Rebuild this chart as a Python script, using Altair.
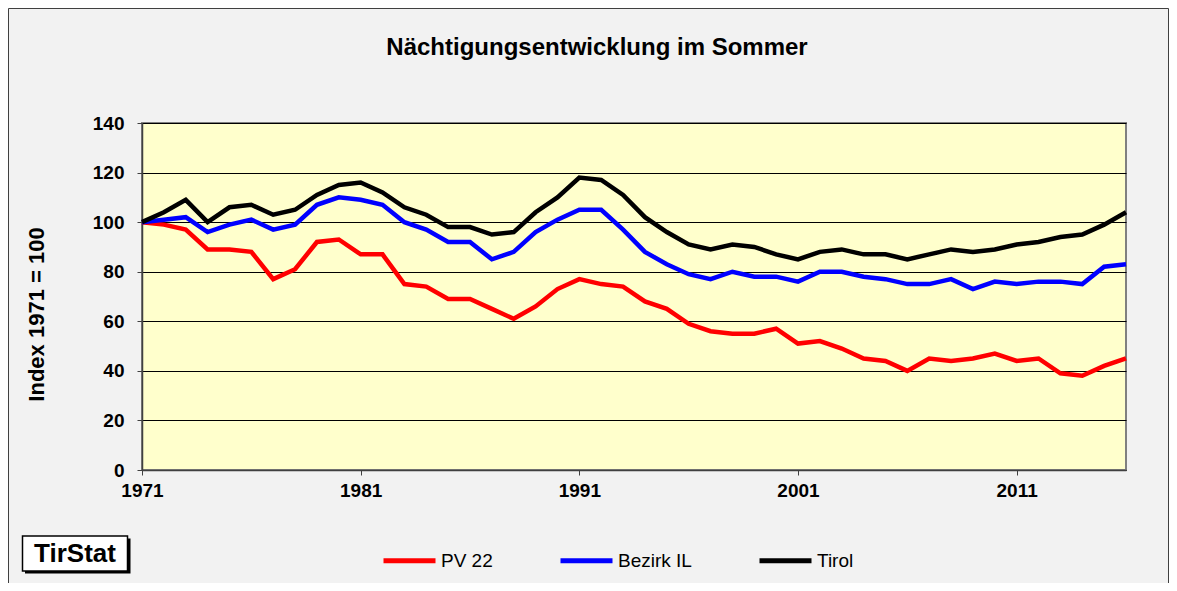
import altair as alt
import pandas as pd

# ---- data ----
years = list(range(1971, 2017))
pv22 = [100, 99, 97, 89, 89, 88, 77, 81, 92, 93,
        87, 87, 75, 74, 69, 69, 65, 61, 66, 73,
        77, 75, 74, 68, 65, 59, 56, 55, 55, 57,
        51, 52, 49, 45, 44, 40, 45, 44, 45, 47,
        44, 45, 39, 38, 42, 45]
bezirk_il = [100, 101, 102, 96, 99, 101, 97, 99, 107, 110,
             109, 107, 100, 97, 92, 92, 85, 88, 96, 101,
             105, 105, 97, 88, 83, 79, 77, 80, 78, 78,
             76, 80, 80, 78, 77, 75, 75, 77, 73, 76,
             75, 76, 76, 75, 82, 83]
tirol = [100, 104, 109, 100, 106, 107, 103, 105, 111, 115,
         116, 112, 106, 103, 98, 98, 95, 96, 104, 110,
         118, 117, 111, 102, 96, 91, 89, 91, 90, 87,
         85, 88, 89, 87, 87, 85, 87, 89, 88, 89,
         91, 92, 94, 95, 99, 104]
series_names = ["PV 22", "Bezirk IL", "Tirol"]
series_colors = ["#ff0000", "#0000ff", "#000000"]
x_ticks = [1971, 1981, 1991, 2001, 2011]
y_ticks = [0, 20, 40, 60, 80, 100, 120, 140]
title_text = "Nächtigungsentwicklung im Sommer"
y_title = "Index 1971 = 100"
badge_text = "TirStat"

FONT = "Liberation Sans"
W, H = 984, 347

rows = []
for name, vals in zip(series_names, [pv22, bezirk_il, tirol]):
    for yr, v in zip(years, vals):
        rows.append({"year": yr, "value": v, "series": name})
df = pd.DataFrame(rows)

color = alt.Color(
    "series:N",
    scale=alt.Scale(domain=series_names, range=series_colors),
    legend=alt.Legend(
        orient="none", legendX=239, legendY=409, direction="horizontal",
        columns=3, title=None, symbolType="stroke", symbolSize=2704,
        symbolStrokeWidth=5, labelFont=FONT, labelFontSize=19,
        labelColor="#000000", labelOffset=3, columnPadding=57, padding=0,
    ),
)

base = alt.Chart(df).mark_line(strokeWidth=4.5).encode(
    x=alt.X("year:Q", scale=alt.Scale(domain=[1971, 2016], nice=False, zero=False),
            axis=alt.Axis(values=x_ticks, format="d", grid=False, title=None,
                          tickSize=5, tickColor="#404040", domainColor="#404040",
                          domainWidth=1.5, labelFont=FONT, labelFontSize=19,
                          labelFontWeight="bold", labelColor="#000000",
                          labelPadding=6, labelFlush=False, labelOverlap=False)),
    y=alt.Y("value:Q", scale=alt.Scale(domain=[0, 140], nice=False, zero=True),
            axis=alt.Axis(values=y_ticks, grid=True, gridColor="#000000", gridWidth=1,
                          tickSize=5, tickColor="#404040", domainColor="#404040",
                          domainWidth=1.5, labelFont=FONT, labelFontSize=19,
                          labelFontWeight="bold", labelColor="#000000",
                          labelPadding=13, labelFlush=False,
                          title=y_title, titleFont=FONT, titleFontSize=22,
                          titleFontWeight="bold", titleColor="#000000",
                          titleX=-106, titleY=191, titleAngle=270,
                          titleAlign="center", titleBaseline="middle")),
    color=color,
)
lines = [base.transform_filter(alt.datum.series == s) for s in series_names]

one = pd.DataFrame({"t": [badge_text]})
border = alt.Chart(one).mark_rect(fill="#f2f2f2", fillOpacity=0, stroke="#404040", strokeWidth=1).encode(
    x=alt.value(-133.5), x2=alt.value(1026.5), y=alt.value(-114.5), y2=alt.value(480))
shadow = alt.Chart(one).mark_rect(fill="#000000").encode(
    x=alt.value(-117), x2=alt.value(-11.5), y=alt.value(415.5), y2=alt.value(450.5))
box = alt.Chart(one).mark_rect(fill="#ffffff", stroke="#000000", strokeWidth=1.5).encode(
    x=alt.value(-119.5), x2=alt.value(-14.5), y=alt.value(413), y2=alt.value(448))
badge = alt.Chart(one).mark_text(font=FONT, fontSize=26, fontWeight="bold", color="#000000",
                                 baseline="middle", align="center").encode(
    x=alt.value(-67), y=alt.value(431), text="t:N")
title = alt.Chart(pd.DataFrame({"t": [title_text]})).mark_text(
    font=FONT, fontSize=24, fontWeight="bold", color="#000000",
    baseline="alphabetic", align="center").encode(
    x=alt.value(455), y=alt.value(-68), text="t:N")

chart = alt.layer(border, shadow, box, badge, title, *lines).properties(
    width=W, height=H,
    autosize=alt.AutoSizeParams(type="none"),
    padding={"left": 134, "top": 115, "right": 43, "bottom": 113},
).configure(background="#f2f2f2").configure_view(
    fill="#ffffcc", stroke="#808080", strokeWidth=2)

chart.save("out.html", embed_options={"renderer": "svg", "actions": False})
